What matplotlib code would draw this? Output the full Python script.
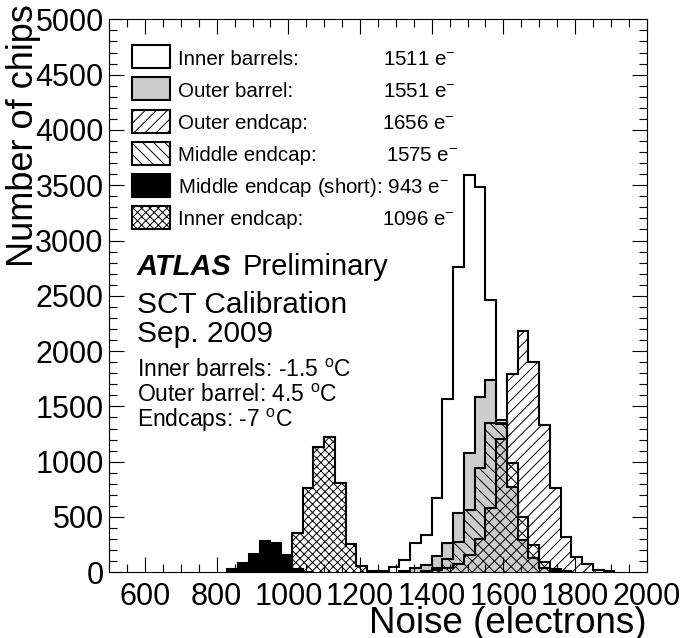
import numpy as np
import matplotlib.pyplot as plt
from matplotlib.patches import Rectangle
from matplotlib.ticker import MultipleLocator

plt.rcParams['font.family'] = ['Liberation Sans', 'DejaVu Sans']
plt.rcParams['mathtext.fontset'] = 'custom'
plt.rcParams['mathtext.rm'] = 'Liberation Sans'
plt.rcParams['mathtext.it'] = 'Liberation Sans:italic'
plt.rcParams['mathtext.bf'] = 'Liberation Sans:bold'
plt.rcParams['hatch.linewidth'] = 0.7

# histogram data: 30 e- bins, first bin lower edge + counts
bin_width = 30

inner_barrels_start = 1250
inner_barrels = [8, 45, 108, 262, 335, 669, 1565, 2763, 3592, 3487, 2462, 1377,
                 700, 250, 80, 25, 8]

outer_barrel_start = 1310
outer_barrel = [15, 36, 66, 150, 262, 533, 1076, 1585, 1739, 1340, 775, 292,
                126, 40, 12]

middle_endcap_start = 1370
middle_endcap = [15, 40, 120, 277, 563, 940, 1353, 1353, 985, 503, 247, 90, 30, 10]

outer_endcap_start = 1370
outer_endcap = [10, 20, 40, 75, 160, 300, 577, 1205, 1795, 2180, 1904, 1328,
                759, 322, 137, 75, 18, 8]

inner_endcap_start = 980
inner_endcap = [15, 358, 759, 1136, 1221, 804, 253, 60, 10]

short_endcap_start = 830
short_endcap = [30, 81, 165, 283, 262, 156, 27, 5]

legend_labels = ['Inner barrels:', 'Outer barrel:', 'Outer endcap:',
                 'Middle endcap:', 'Middle endcap (short): 943 e$^{-}$', 'Inner endcap:']
legend_values = ['1511 e$^{-}$', '1551 e$^{-}$', '1656 e$^{-}$', '1575 e$^{-}$', '', '1096 e$^{-}$']

W, H = 685, 638


def fxy(x, y):
    # pixel position (from top-left) -> figure fraction
    return x / W, 1 - y / H


def edges_for(start, counts):
    return start + bin_width * np.arange(len(counts) + 1)


fig = plt.figure(figsize=(6.85, 6.38), dpi=100)
ax = fig.add_axes([0.1594, 0.1030, 0.7847, 0.8667])

styles = [
    (inner_barrels_start, inner_barrels, dict(facecolor='white', hatch=None)),
    (outer_barrel_start, outer_barrel, dict(facecolor='#cccccc', hatch=None)),
    (middle_endcap_start, middle_endcap, dict(facecolor='none', hatch='\\\\\\')),
    (outer_endcap_start, outer_endcap, dict(facecolor='none', hatch='///')),
    (inner_endcap_start, inner_endcap, dict(facecolor='none', hatch='xxxx')),
    (short_endcap_start, short_endcap, dict(facecolor='black', hatch=None)),
]
for start, counts, st in styles:
    ax.stairs(counts, edges_for(start, counts), fill=True, edgecolor='black',
              linewidth=1.5, **st)

ax.set_xlim(500, 2000)
ax.set_ylim(0, 5000)
ax.xaxis.set_major_locator(MultipleLocator(200))
ax.xaxis.set_minor_locator(MultipleLocator(50))
ax.yaxis.set_major_locator(MultipleLocator(500))
ax.yaxis.set_minor_locator(MultipleLocator(100))
ax.tick_params(which='both', direction='in', top=True, right=True, width=0.8)
ax.tick_params(which='major', length=11)
ax.tick_params(which='minor', length=5.5)
ax.tick_params(axis='x', labelsize=22, pad=7)
ax.tick_params(axis='y', labelsize=22, pad=4)
for s in ax.spines.values():
    s.set_linewidth(0.8)

ax.set_xlabel('Noise (electrons)', fontsize=26.5, loc='right')
ax.xaxis.label.set_va('baseline')
ax.xaxis.set_label_coords(1.0, -0.1100)
ax.set_ylabel('Number of chips', fontsize=26, loc='top')
ax.yaxis.set_label_coords(-0.127, 1.028)

# legend drawn by hand
row_centers = [56.7, 88.8, 121.2, 153.0, 185.0, 217.2]
value_x = [383, 383, 381.5, 386, 0, 382.5]
for i, (start, counts, st) in enumerate(styles[:2] + [styles[3], styles[2], styles[5], styles[4]]):
    yc = row_centers[i]
    x0, y0 = fxy(131.7, yc + 11.5)
    rect = Rectangle((x0, y0), 38.3 / W, 23 / H, transform=fig.transFigure,
                     edgecolor='black', linewidth=1.5, **st)
    fig.add_artist(rect)
    fig.text(*fxy(177.7, yc + 8), legend_labels[i], fontsize=14.8, va='baseline')
    if legend_values[i]:
        fig.text(*fxy(value_x[i], yc + 8), legend_values[i], fontsize=14.8, va='baseline')

fig.text(*fxy(136.7, 275), 'ATLAS', fontsize=21, fontweight='bold', style='italic', va='baseline')
fig.text(*fxy(243, 275), 'Preliminary', fontsize=21, va='baseline')
fig.text(*fxy(136.7, 312.7), 'SCT Calibration', fontsize=21.5, va='baseline')
fig.text(*fxy(136.7, 341.7), 'Sep. 2009', fontsize=21.5, va='baseline')
fig.text(*fxy(136.7, 376.7), r'Inner barrels: -1.5 $^{\mathrm{o}}$C', fontsize=16.5, va='baseline')
fig.text(*fxy(136.7, 401.7), r'Outer barrel: 4.5 $^{\mathrm{o}}$C', fontsize=16.5, va='baseline')
fig.text(*fxy(136.7, 426.7), r'Endcaps: -7 $^{\mathrm{o}}$C', fontsize=16.5, va='baseline')

fig.savefig('out.png', dpi=100)
